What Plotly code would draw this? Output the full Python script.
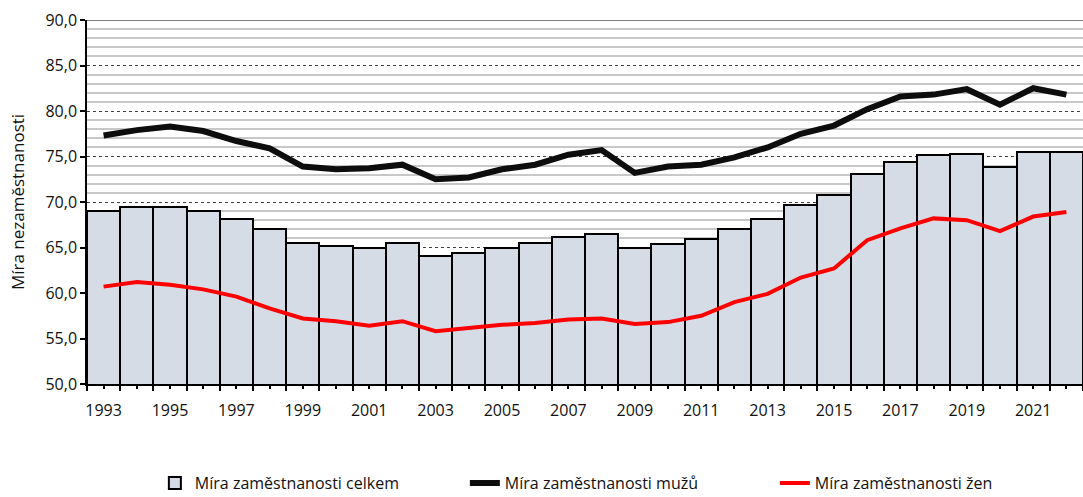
import plotly.graph_objects as go

years = list(range(1993, 2023))
total = [69.0, 69.4, 69.5, 69.0, 68.1, 67.0, 65.5, 65.2, 65.0, 65.5,
         64.1, 64.4, 65.0, 65.5, 66.2, 66.5, 65.0, 65.4, 65.9, 67.0,
         68.1, 69.7, 70.8, 73.1, 74.4, 75.2, 75.3, 73.9, 75.5, 75.5]
men = [77.3, 77.9, 78.3, 77.8, 76.7, 75.9, 73.9, 73.6, 73.7, 74.1,
       72.5, 72.7, 73.6, 74.1, 75.2, 75.7, 73.2, 73.9, 74.1, 74.9,
       76.0, 77.5, 78.4, 80.2, 81.6, 81.8, 82.4, 80.7, 82.5, 81.8]
women = [60.7, 61.2, 60.9, 60.4, 59.6, 58.3, 57.2, 56.9, 56.4, 56.9,
         55.8, 56.2, 56.5, 56.7, 57.1, 57.2, 56.6, 56.8, 57.5, 59.0,
         59.9, 61.7, 62.7, 65.8, 67.1, 68.2, 68.0, 66.8, 68.4, 68.9]

names = ["Míra zaměstnanosti celkem", "Míra zaměstnanosti mužů", "Míra zaměstnanosti žen"]
y_title = "Míra nezaměstnanosti"
y_range = [50, 90]
tick_labels = [str(y) if y % 2 == 1 else "" for y in years]
boundaries = [y - 0.5 for y in years] + [years[-1] + 0.5]

FONT = "Open Sans"

fig = go.Figure()
fig.add_trace(go.Bar(x=years, y=total, name=names[0],
                     marker=dict(color="#d6dce5", line=dict(color="black", width=2))))
fig.add_trace(go.Scatter(x=years, y=men, name=names[1], mode="lines",
                         line=dict(color="#0d0d0d", width=6)))
fig.add_trace(go.Scatter(x=years, y=women, name=names[2], mode="lines",
                         line=dict(color="#ff0000", width=4)))
# helper invisible trace for boundary ticks axis
fig.add_trace(go.Scatter(x=[boundaries[0]], y=[y_range[0]], xaxis="x2", mode="markers",
                         marker=dict(opacity=0), showlegend=False, hoverinfo="skip"))

x_range = [years[0] - 0.5, years[-1] + 0.5]

fig.update_layout(
    width=1083, height=497,
    margin=dict(l=87, r=0, t=20, b=113),
    plot_bgcolor="white", paper_bgcolor="white",
    bargap=0,
    separators=", ",
    font=dict(family=FONT, size=16, color="#111111"),
    showlegend=True,
    legend=dict(orientation="h", xref="container", yref="container",
                x=0.143, y=0.028, xanchor="left", yanchor="middle",
                entrywidth=265, entrywidthmode="pixels",
                font=dict(size=16, family=FONT)),
    shapes=[dict(type="line", xref="paper", yref="y", x0=0, x1=1, y0=y_range[1], y1=y_range[1],
                 line=dict(color="#808080", width=2), layer="above")],
    xaxis=dict(
        range=x_range,
        tickmode="array", tickvals=years, ticktext=tick_labels,
        ticks="outside", ticklen=3, tickcolor="black", tickwidth=1.5,
        ticklabelstandoff=8,
        showgrid=False, zeroline=False,
        showline=True, linecolor="black", linewidth=1.5,
        tickfont=dict(size=16), automargin=False,
    ),
    xaxis2=dict(overlaying="x", side="bottom", anchor="y", range=x_range,
                tickmode="array", tickvals=boundaries, ticktext=[""] * len(boundaries),
                ticks="outside", ticklen=6, tickcolor="black", tickwidth=1.5,
                showgrid=False, showline=False, zeroline=False, automargin=False),
)
fig.update_yaxes(
    range=y_range, dtick=5, tick0=50, tickformat=".1f",
    ticks="outside", ticklen=5, tickcolor="black", tickwidth=1.5,
    showline=True, linecolor="black", linewidth=1.5,
    showgrid=True, gridcolor="#404040", gridwidth=1, griddash="dot",
    zeroline=False, automargin=False,
    minor=dict(dtick=1, showgrid=True, gridcolor="#c8c8c8", gridwidth=1.5, griddash="solid"),
    title=dict(text=y_title, font=dict(size=17), standoff=17),
    tickfont=dict(size=16),
)

fig.write_html("out.html", config={"displayModeBar": False},
               post_script="document.body.style.margin='0';document.body.style.overflow='hidden';")
